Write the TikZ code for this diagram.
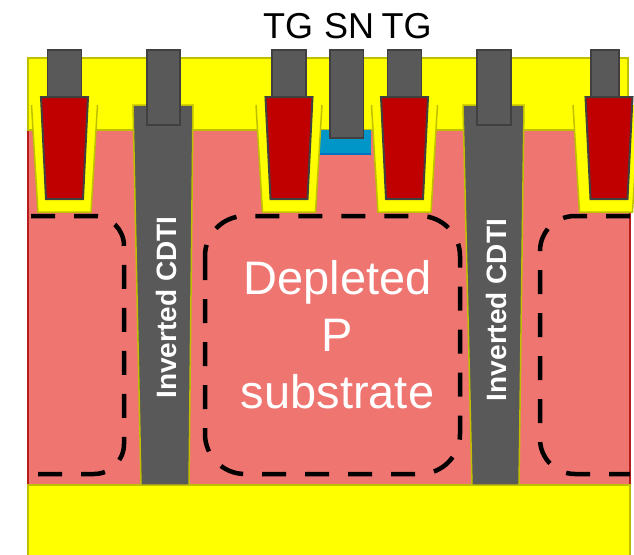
\documentclass[tikz,border=0pt]{standalone}
\usepackage{fontspec}
\setmainfont{Liberation Sans}
\definecolor{oxideyellow}{HTML}{FFFF00}
\definecolor{oxideedge}{HTML}{BFBF00}
\definecolor{substratepink}{HTML}{EF7571}
\definecolor{substrateedge}{HTML}{B51C1C}
\definecolor{polyred}{HTML}{C00000}
\definecolor{metalgray}{HTML}{595959}
\definecolor{metaledge}{HTML}{404040}
\definecolor{snblue}{HTML}{0096C8}
\definecolor{snedge}{HTML}{0070C0}
\begin{document}
\begin{tikzpicture}[x=1pt,y=-1pt,
  oxide/.style={fill=oxideyellow,draw=oxideedge,line width=1.5pt},
  liner/.style={draw=oxideedge,line width=1.5pt},
  poly/.style={fill=polyred,draw=metaledge,line width=2pt},
  metal/.style={fill=metalgray,draw=metaledge,line width=1.5pt},
  cdti/.style={fill=metalgray,draw=oxideedge,line width=1.5pt},
  deplbox/.style={black,line width=4.5pt,dash pattern=on 24pt off 19pt},
  toplabel/.style={font=\fontsize{36}{40}\selectfont,inner sep=0pt,anchor=base},
  cdtilabel/.style={white,font=\bfseries\fontsize{28}{30}\selectfont,inner sep=0pt,rotate=90}]
  \clip (0,0) rectangle (634,554);
  %Substrate, bottom oxide and top oxide
  \draw[fill=substratepink,draw=substrateedge,line width=1.2pt] (28,130) rectangle (630,485);
  \draw[oxide] (28,485) rectangle (630,560);
  \draw[oxide] (28,58) rectangle (628,130);
  %Storage node implant
  \fill[snblue] (318,130) rectangle (371,155);
  \draw[snedge,line width=1.5pt] (318,154) -- (371,154);
  %Depleted regions
  \draw[deplbox,rounded corners=30pt] (31,216) -- (124,216) -- (124,474) -- (31,474);
  \draw[deplbox,rounded corners=40pt] (205,216) rectangle (460,474);
  \draw[deplbox,rounded corners=35pt] (630,216) -- (540,216) -- (540,474) -- (630,474);

  %Transfer gate 1
  \fill[oxideyellow] (31.5,105) -- (38,212) -- (91,212) -- (97.5,105) -- cycle;
  \draw[liner] (31.5,105) -- (38,212) -- (91,212) -- (97.5,105);
  \draw[poly] (41,97) -- (46,199) -- (83,199) -- (88,97) -- cycle;
  \draw[metal] (47.5,50) rectangle (81.5,97);
  %Transfer gate 2
  \fill[oxideyellow] (256,105) -- (262.5,212) -- (315.5,212) -- (322,105) -- cycle;
  \draw[liner] (256,105) -- (262.5,212) -- (315.5,212) -- (322,105);
  \draw[poly] (265.5,97) -- (270.5,199) -- (307.5,199) -- (312.5,97) -- cycle;
  \draw[metal] (272,50) rectangle (306,97);
  %Transfer gate 3
  \fill[oxideyellow] (371.5,105) -- (378,212) -- (431,212) -- (437.5,105) -- cycle;
  \draw[liner] (371.5,105) -- (378,212) -- (431,212) -- (437.5,105);
  \draw[poly] (381,97) -- (386,199) -- (423,199) -- (428,97) -- cycle;
  \draw[metal] (387.5,50) rectangle (421.5,97);
  %Transfer gate 4
  \fill[oxideyellow] (573,105) -- (579.5,212) -- (632.5,212) -- (639,105) -- cycle;
  \draw[liner] (573,105) -- (579.5,212) -- (632.5,212) -- (639,105);
  \draw[poly] (585.5,97) -- (590.5,199) -- (627.5,199) -- (632.5,97) -- cycle;
  \draw[metal] (591,50) rectangle (619,97);
  %Storage node contact
  \draw[metal] (330,50) rectangle (363.5,138);

  %Inverted CDTI
  \draw[cdti] (133,105) -- (141,485) -- (189,485) -- (193,105) -- cycle;
  \draw[metal] (147,50) rectangle (180,125);
  \draw[cdti] (463,105) -- (472,485) -- (519,485) -- (524,105) -- cycle;
  \draw[metal] (477,50) rectangle (511,125);

  %Labels
  \node[toplabel] (tgA) at (288,38) {TG};
  \node[toplabel] (sn) at (349,38) {SN};
  \node[toplabel] (tgB) at (406.5,38) {TG};
  \node[white,font=\fontsize{47}{57}\selectfont,align=center,anchor=base,inner sep=0pt] (depl) at (337.5,408) {Depleted\\P\\substrate};
  \node[cdtilabel] (cdtiA) at (166,307.5) {Inverted CDTI};
  \node[cdtilabel] (cdtiB) at (496.5,310) {Inverted CDTI};
\end{tikzpicture}
\end{document}
